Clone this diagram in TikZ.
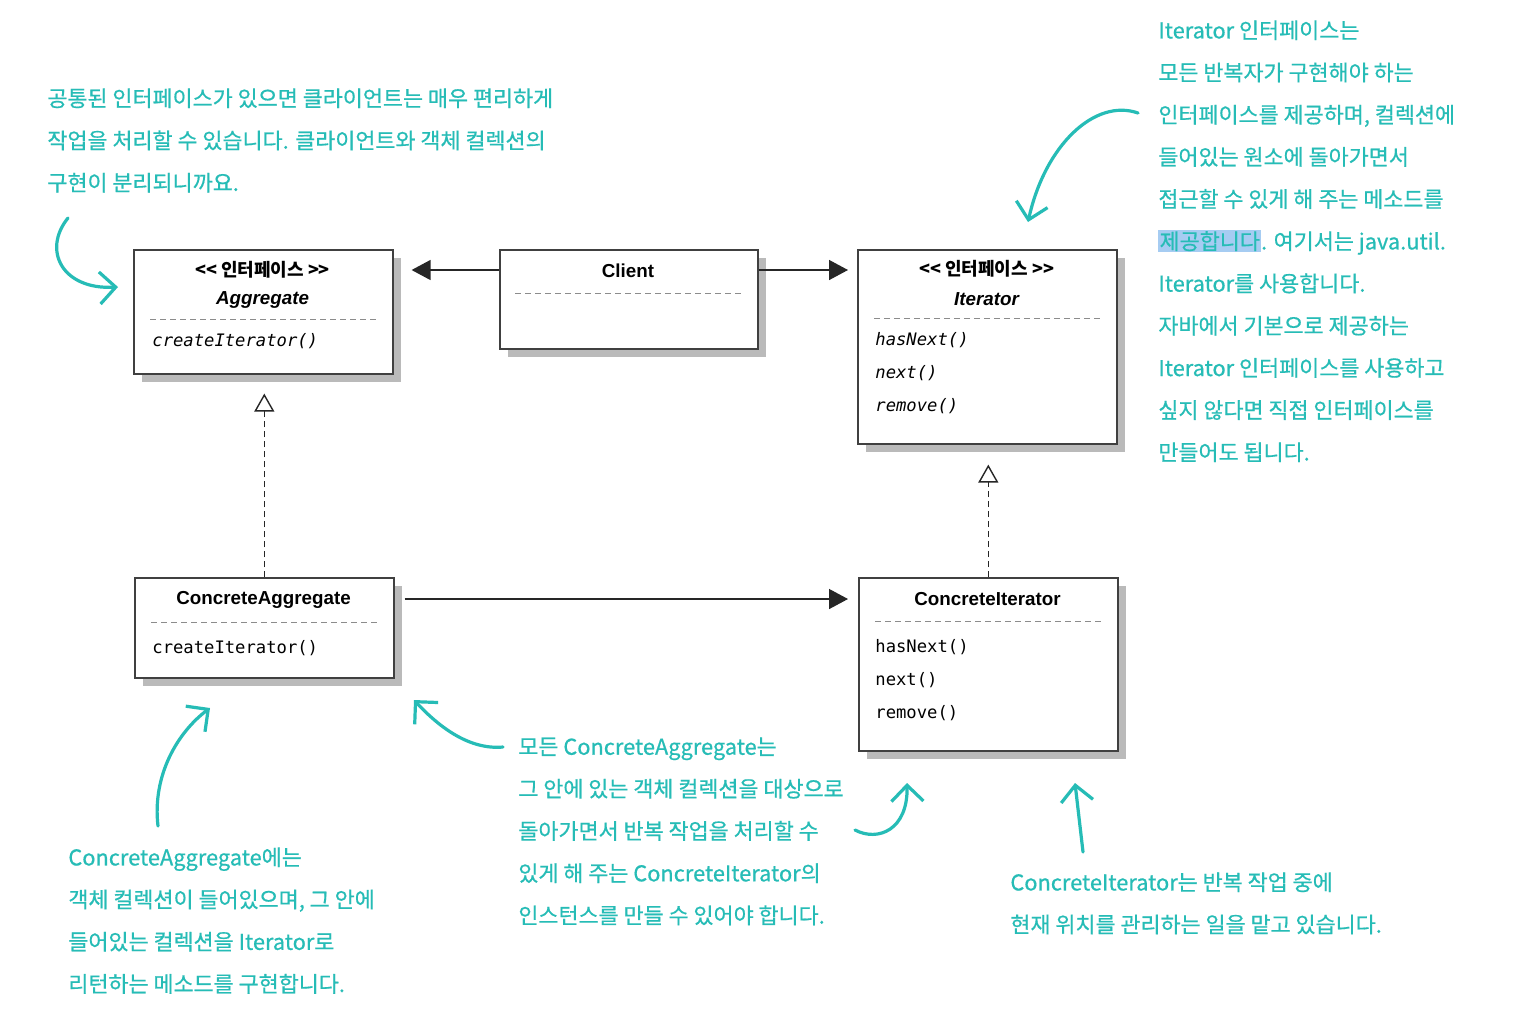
\documentclass[tikz,border=0pt]{standalone}
\usepackage{fontspec}
\usetikzlibrary{arrows.meta,calc,shadows}
\newfontfamily\kr{Noto Sans CJK KR}
\newfontfamily\krhand{Noto Sans CJK KR}[FakeBold=0.6]
\newfontfamily\sansf{Liberation Sans}
\newfontfamily\monof{DejaVu Sans Mono}
\definecolor{tealhand}{RGB}{38,188,182}
\definecolor{hlblue}{RGB}{166,204,242}
\newcommand{\hlmark}[1]{{\setlength{\fboxsep}{0.6pt}\colorbox{hlblue}{#1}}}
\begin{document}
\begin{tikzpicture}[x=0.5pt,y=-0.5pt,
  umlbox/.style={draw=black!75, line width=0.8pt, fill=white,
    drop shadow={shadow xshift=4pt, shadow yshift=-4pt, fill=black!27, opacity=1},
    inner sep=0pt, anchor=north west},
  sepline/.style={black!45, line width=0.5pt, densely dashed},
  stereo/.style={font=\kr\bfseries\fontsize{9pt}{10pt}\selectfont, inner sep=0pt},
  cname/.style={font=\sansf\bfseries\fontsize{9.4pt}{10pt}\selectfont, inner sep=0pt},
  iname/.style={font=\sansf\bfseries\itshape\fontsize{9.4pt}{10pt}\selectfont, inner sep=0pt},
  meth/.style={font=\monof\fontsize{8.6pt}{10pt}\selectfont, inner sep=0pt, anchor=west},
  imeth/.style={font=\monof\itshape\fontsize{8.6pt}{10pt}\selectfont, inner sep=0pt, anchor=west},
  assoc/.style={draw=black!85, line width=0.7pt, -{Triangle[length=9.5pt,width=10pt]}},
  realize/.style={draw=black!85, line width=0.7pt, dash pattern=on 3pt off 2pt,
    -{Triangle[open,length=9pt,width=10pt,fill=white]}},
  note/.style={text=tealhand, font=\krhand\fontsize{10.9pt}{21.1pt}\selectfont,
    align=left, anchor=north west, inner sep=0pt},
  hand/.style={draw=tealhand, line width=1.6pt, line cap=round,
    -{Straight Barb[length=8pt,width=16pt,line width=1.6pt]}}
]
\fill[white] (0,0) rectangle (1534,1014);
\useasboundingbox (0,0) rectangle (1534,1014);

% boxes
\node[umlbox, minimum width=129.5pt, minimum height=62pt] (agg) at (133,249) {};
\node[umlbox, minimum width=129pt, minimum height=49.5pt] (client) at (499,249) {};
\node[umlbox, minimum width=129.5pt, minimum height=97pt] (iter) at (857,249) {};
\node[umlbox, minimum width=129.5pt, minimum height=50pt] (ca) at (134,577) {};
\node[umlbox, minimum width=129.5pt, minimum height=86.5pt] (ci) at (858,577) {};

% Aggregate
\node[stereo] (aggst) at (262.5,270) {<< 인터페이스 >>};
\node[iname] (aggname) at (262.5,300) {Aggregate};
\draw[sepline] ($(agg.north west)+(17,70)$) -- ($(agg.north east)+(-17,70)$);
\node[imeth] (aggm1) at (152,341) {createIterator()};

% Client
\node[cname] (clname) at (628,271) {Client};
\draw[sepline] ($(client.north west)+(16,44)$) -- ($(client.north east)+(-17,44)$);

% Iterator
\node[stereo] (iterst) at (986.5,269) {<< 인터페이스 >>};
\node[iname] (itername) at (986.5,299) {Iterator};
\draw[sepline] ($(iter.north west)+(17,69)$) -- ($(iter.north east)+(-17,69)$);
\node[imeth] (iterm1) at (875,340) {hasNext()};
\node[imeth] (iterm2) at (875,373) {next()};
\node[imeth] (iterm3) at (875,406) {remove()};

% ConcreteAggregate
\node[cname] (caname) at (263.5,600) {ConcreteAggregate};
\draw[sepline] ($(ca.north west)+(17,45)$) -- ($(ca.north east)+(-17,45)$);
\node[meth] (cam1) at (152,648) {createIterator()};

% ConcreteIterator
\node[cname] (ciname) at (987.5,599) {ConcreteIterator};
\draw[sepline] ($(ci.north west)+(17,44)$) -- ($(ci.north east)+(-17,44)$);
\node[meth] (cim1) at (875,647) {hasNext()};
\node[meth] (cim2) at (875,680) {next()};
\node[meth] (cim3) at (875,713) {remove()};

% UML connectors
\draw[assoc] ($(client.north west)+(0,21)$) -- ($(agg.north east)+(18,21)$);
\draw[assoc] ($(client.north east)+(0,21)$) -- ($(iter.north west)+(-9,21)$);
\draw[assoc] ($(ca.north east)+(10,22)$) -- ($(ci.north west)+(-10,22)$);
\coordinate (aggtip) at ($(agg.south)+(0,19)$);
\coordinate (itertip) at ($(iter.south)+(0,20)$);
\draw[realize] (ca.north) -- (ca.north |- aggtip);
\draw[realize] (ci.north) -- (ci.north |- itertip);

% annotations
\node[note] (n1) at (47,88) {공통된 인터페이스가 있으면 클라이언트는 매우 편리하게\\작업을 처리할 수 있습니다. 클라이언트와 객체 컬렉션의\\구현이 분리되니까요.};
\node[note] (n2) at (1158,20) {Iterator 인터페이스는\\모든 반복자가 구현해야 하는\\인터페이스를 제공하며, 컬렉션에\\들어있는 원소에 돌아가면서\\접근할 수 있게 해 주는 메소드를\\\hlmark{제공합니다}. 여기서는 java.util.\\Iterator를 사용합니다.\\자바에서 기본으로 제공하는\\Iterator 인터페이스를 사용하고\\싶지 않다면 직접 인터페이스를\\만들어도 됩니다.};
\node[note] (n3) at (68,847) {ConcreteAggregate에는\\객체 컬렉션이 들어있으며, 그 안에\\들어있는 컬렉션을 Iterator로\\리턴하는 메소드를 구현합니다.};
\node[note] (n4) at (518,737) {모든 ConcreteAggregate는\\그 안에 있는 객체 컬렉션을 대상으로\\돌아가면서 반복 작업을 처리할 수\\있게 해 주는 ConcreteIterator의\\인스턴스를 만들 수 있어야 합니다.};
\node[note] (n5) at (1010,872) {ConcreteIterator는 반복 작업 중에\\현재 위치를 관리하는 일을 맡고 있습니다.};

% hand-drawn arrows
\coordinate (a1s) at (68,218); \coordinate (a1e) at (118,287);
\draw[hand] (a1s) .. controls (42,250) and (62,290) .. (a1e);
\coordinate (a2s) at (1138,113); \coordinate (a2e) at (1028,222);
\draw[hand] (a2s) .. controls (1095,98) and (1045,145) .. (a2e);
\coordinate (a3s) at (158,826); \coordinate (a3e) at (210,708);
\draw[hand] (a3s) .. controls (152,775) and (178,732) .. (a3e);
\coordinate (a4s) at (503,747); \coordinate (a4e) at (414,700);
\draw[hand] (a4s) .. controls (470,750) and (440,728) .. (a4e);
\coordinate (a5s) at (855,830); \coordinate (a5e) at (907,783);
\draw[hand] (a5s) .. controls (878,842) and (908,830) .. (a5e);
\coordinate (a6s) at (1083,852); \coordinate (a6e) at (1075,783);
\draw[hand] (a6s) -- (a6e);
\end{tikzpicture}
\end{document}
